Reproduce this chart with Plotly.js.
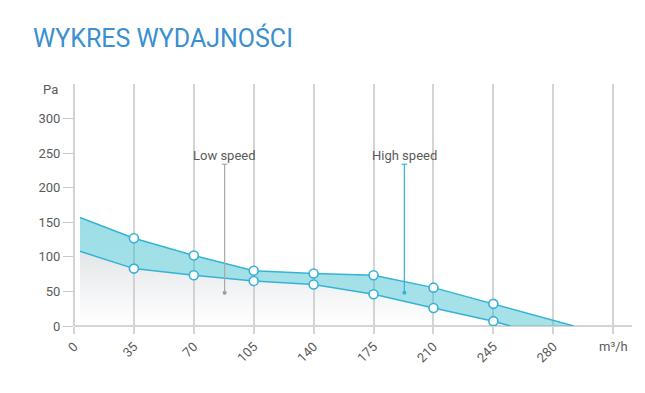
<!DOCTYPE html>
<html><head><meta charset="utf-8">
<script src="https://cdn.plot.ly/plotly-3.0.1.min.js"></script>
<style>html,body{margin:0;padding:0;background:#fff}#c{width:645px;height:393px}</style>
</head><body><div id="c"></div>
<script>
// Data
const lowX  = [3.5, 35, 70, 105, 140, 175, 210, 245, 255];
const lowY  = [108, 83, 73.5, 65, 60, 46, 26, 7, 0];
const highX = [3.5, 35, 70, 105, 140, 175, 210, 245, 292];
const highY = [157, 127, 102, 80, 76, 73.5, 55.5, 32, 0];
const markerX = [35, 70, 105, 140, 175, 210, 245];
const xTickVals = [0, 35, 70, 105, 140, 175, 210, 245, 280, 315];
const xTickText = ['0', '35', '70', '105', '140', '175', '210', '245', '280', ''];
const yTickVals = [0, 50, 100, 150, 200, 250, 300];
const labels = ['Low speed', 'High speed'];
const labelX = [88, 193];
const labelTopY = 234, labelBottomY = 48;

const lineC = '#35b3d6';
const gridC = '#d4d4d4';
const textC = '#5b5b5b';

function pick(xs, ys, keep) { return ys.filter((v, i) => keep.includes(xs[i])); }

const traces = [
  { x: lowX, y: lowY, mode: 'lines', line: {color: lineC, width: 1.5}, fill: 'tozeroy',
    fillgradient: {type: 'vertical', colorscale: [[0, 'rgba(200,205,208,0.0)'], [1, 'rgba(190,198,202,0.45)']]},
    hoverinfo: 'skip', showlegend: false },
  { x: highX, y: highY, mode: 'lines', line: {color: lineC, width: 1.5}, fill: 'tonexty',
    fillgradient: {type: 'vertical', colorscale: [[0, 'rgba(60,190,205,0.45)'], [1, 'rgba(60,190,205,0.5)']]},
    hoverinfo: 'skip', showlegend: false },
  { x: markerX, y: pick(lowX, lowY, markerX), mode: 'markers',
    marker: {size: 9, color: '#fff', line: {color: lineC, width: 1.6}}, showlegend: false, hoverinfo: 'skip' },
  { x: markerX, y: pick(highX, highY, markerX), mode: 'markers',
    marker: {size: 9, color: '#fff', line: {color: lineC, width: 1.6}}, showlegend: false, hoverinfo: 'skip' },
  { x: labelX, y: [labelBottomY, labelBottomY], mode: 'markers',
    marker: {size: 4, color: ['#9a9a9a', lineC]}, showlegend: false, hoverinfo: 'skip' }
];

const leaderC = ['#a8a8a8', lineC];
const shapes = [];
labelX.forEach((x, i) => {
  shapes.push({type: 'line', xref: 'x', yref: 'y', x0: x, x1: x, y0: labelTopY, y1: labelBottomY,
    line: {color: leaderC[i], width: 1.2}});
  shapes.push({type: 'line', xref: 'x', yref: 'y', x0: x - 1.6, x1: x + 1.6, y0: labelTopY, y1: labelTopY,
    line: {color: leaderC[i], width: 1.2}});
});

const annotations = labels.map((t, i) => ({
  text: t, x: labelX[i], y: 246, xref: 'x', yref: 'y', showarrow: false,
  font: {family: 'Roboto', size: 13, color: textC}, xanchor: 'center', yanchor: 'middle'
}));
annotations.push({text: 'Pa', xref: 'paper', yref: 'y', x: 0, y: 342, xshift: -14, showarrow: false,
  xanchor: 'right', yanchor: 'middle', font: {family: 'Roboto', size: 13, color: textC}});
annotations.push({text: 'm³/h', xref: 'x', yref: 'paper', x: 315, y: 0, yshift: -20, showarrow: false,
  xanchor: 'center', yanchor: 'middle', font: {family: 'Roboto', size: 13, color: textC}});

const layout = {
  width: 645, height: 393,
  margin: {l: 73.5, r: 13, t: 84, b: 67.3},
  paper_bgcolor: '#fff', plot_bgcolor: '#fff',
  title: {text: 'WYKRES WYDAJNOŚCI', xref: 'container', yref: 'container', x: 33/645, xanchor: 'left',
    y: 1 - 38/393, yanchor: 'middle', font: {family: 'Roboto', size: 25, color: '#3a8fd0'}},
  xaxis: {range: [0, 326], tickmode: 'array', tickvals: xTickVals, ticktext: xTickText, tickangle: -45,
    showgrid: true, gridcolor: gridC, gridwidth: 2, zeroline: true, zerolinecolor: gridC, zerolinewidth: 2,
    ticks: 'outside', ticklen: 7, tickcolor: gridC, tickwidth: 2, showline: false,
    tickfont: {family: 'Roboto', size: 13, color: textC}, fixedrange: true},
  yaxis: {range: [0, 350], tickmode: 'array', tickvals: yTickVals, showgrid: false,
    zeroline: true, zerolinecolor: gridC, zerolinewidth: 2,
    ticks: 'outside', ticklen: 10, tickcolor: '#c8c8c8', tickwidth: 1,
    tickfont: {family: 'Roboto', size: 13, color: textC}, fixedrange: true},
  shapes: shapes, annotations: annotations
};

Plotly.newPlot('c', traces, layout, {displayModeBar: false, staticPlot: true});
</script></body></html>
